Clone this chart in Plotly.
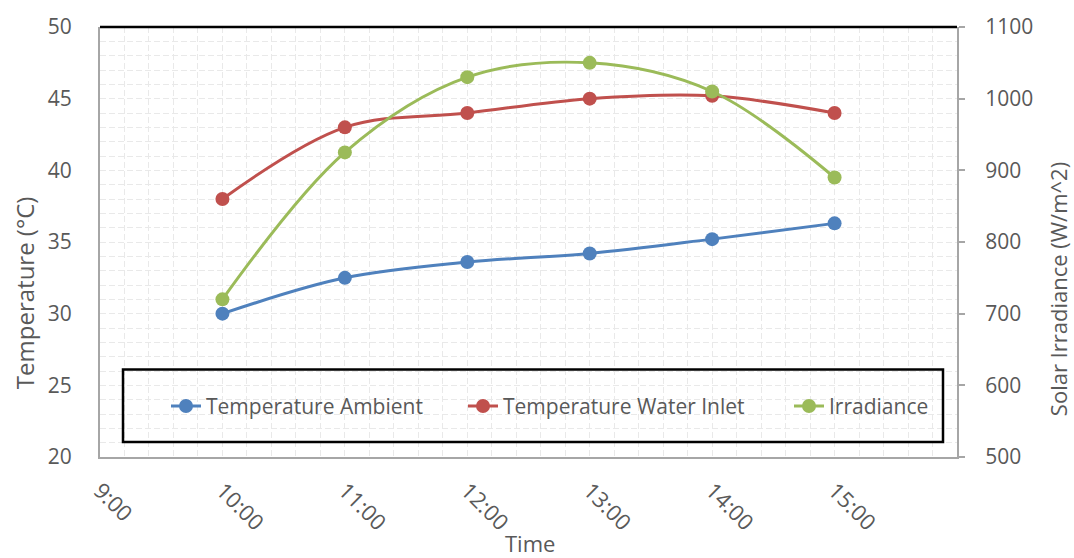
import plotly.graph_objects as go

# Hourly readings
hours = [10, 11, 12, 13, 14, 15]
tick_hours = [9, 10, 11, 12, 13, 14, 15]
tick_labels = ["9:00", "10:00", "11:00", "12:00", "13:00", "14:00", "15:00"]

temp_ambient = [30.0, 32.5, 33.6, 34.2, 35.2, 36.3]
temp_water_inlet = [38.0, 43.0, 44.0, 45.0, 45.2, 44.0]
irradiance = [720, 925, 1030, 1050, 1010, 890]

FONT = "Open Sans"
TEXT = "#595959"
GRID = "#E9E9E9"
AXIS = "#A6A6A6"

# plot-area geometry in pixels
L, R, T, B = 100, 957, 24, 457
W, H = R - L, B - T

def px(x):
    return (x - L) / W

def py(y):
    return (B - y) / H

fig = go.Figure()

def add_series(y, name, color, axis, legend):
    fig.add_trace(go.Scatter(
        x=hours, y=y, name=name, yaxis=axis, legend=legend,
        mode="lines+markers",
        line=dict(color=color, width=3, shape="spline", smoothing=1.0),
        marker=dict(color=color, size=14),
    ))

add_series(temp_ambient, "Temperature Ambient", "#4F81BD", "y", "legend")
add_series(temp_water_inlet, "Temperature Water Inlet", "#C0504D", "y", "legend2")
add_series(irradiance, "Irradiance", "#9BBB59", "y2", "legend3")

grid = dict(showgrid=True, gridcolor=GRID, griddash="6px,3px", gridwidth=1)

def legend_at(x_pix):
    return dict(
        orientation="h", x=px(x_pix), y=py(406), xanchor="left", yanchor="middle",
        bgcolor="rgba(255,255,255,0)", borderwidth=0,
        font=dict(family=FONT, size=21, color=TEXT),
    )

fig.update_layout(
    width=1074, height=558,
    margin=dict(l=L, r=1074 - R, t=T, b=558 - B),
    paper_bgcolor="white", plot_bgcolor="white",
    font=dict(family=FONT, size=21, color=TEXT),
    showlegend=True,
    legend=legend_at(166),
    legend2=legend_at(463),
    legend3=legend_at(789),
    xaxis=dict(
        range=[9, 16], tickvals=tick_hours, ticktext=tick_labels,
        tickangle=45, showline=True, linecolor=AXIS, linewidth=2,
        minor=dict(dtick=0.2, **grid), **grid,
        ticks="", zeroline=False, ticklabelstandoff=10,
        tickfont=dict(size=22, color=TEXT),
    ),
    yaxis=dict(
        range=[20, 50], dtick=5, showline=True, linecolor=AXIS, linewidth=2,
        minor=dict(dtick=1, **grid), **grid,
        ticks="", zeroline=False, ticklabelstandoff=22,
        tickfont=dict(size=21, color=TEXT),
    ),
    yaxis2=dict(
        range=[500, 1100], dtick=100, overlaying="y", side="right",
        showline=True, linecolor=AXIS, linewidth=2, showgrid=False,
        ticks="outside", ticklen=6, tickcolor=AXIS, tickwidth=2, zeroline=False,
        ticklabelstandoff=16,
        tickfont=dict(size=21, color=TEXT),
    ),
    annotations=[
        dict(text="Temperature (°C)", xref="paper", yref="paper",
             x=px(24), y=py(292), textangle=-90, showarrow=False,
             xanchor="center", yanchor="middle", font=dict(size=24, color=TEXT)),
        dict(text="Solar Irradiance (W/m^2)", xref="paper", yref="paper",
             x=px(1058), y=py(288), textangle=-90, showarrow=False,
             xanchor="center", yanchor="middle", font=dict(size=22, color=TEXT)),
        dict(text="Time", xref="paper", yref="paper",
             x=px(530), y=py(544), showarrow=False,
             xanchor="center", yanchor="middle", font=dict(size=22, color=TEXT)),
    ],
    shapes=[
        # black border along the top of the plot area
        dict(type="line", xref="paper", yref="paper", x0=0, x1=1, y0=1, y1=1,
             line=dict(color="black", width=2.5)),
        # legend frame
        dict(type="rect", xref="paper", yref="paper",
             x0=px(123), x1=px(943), y0=py(442), y1=py(369),
             line=dict(color="black", width=2.5), fillcolor="rgba(0,0,0,0)",
             layer="above"),
    ],
)

fig.write_html("out.html")
